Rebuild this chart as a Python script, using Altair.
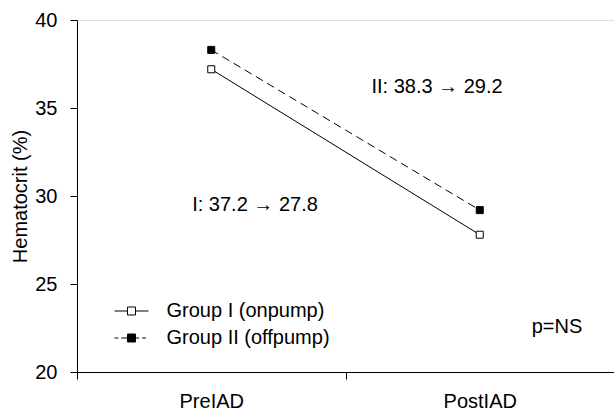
import altair as alt
import pandas as pd

times = ["PreIAD", "PostIAD"]
groups = ["Group I (onpump)", "Group II (offpump)"]
group1 = [37.2, 27.8]
group2 = [38.3, 29.2]
y_ticks = [20, 25, 30, 35, 40]

rows = []
for t, v in zip(times, group1):
    rows.append({"time": t, "group": groups[0], "value": v})
for t, v in zip(times, group2):
    rows.append({"time": t, "group": groups[1], "value": v})
df = pd.DataFrame(rows)

FONT = "Liberation Sans"

x_enc = alt.X("time:N", sort=times,
              scale=alt.Scale(paddingInner=0, paddingOuter=0),
              axis=alt.Axis(title=None, tickBand="extent", labelAngle=0,
                            labelFontSize=20, labelFont=FONT, labelColor="black",
                            labelPadding=12, tickSize=7, tickColor="black",
                            domainColor="black", grid=False))
y_enc = alt.Y("value:Q",
              scale=alt.Scale(domain=[20, 40], nice=False, zero=False),
              axis=alt.Axis(title="Hematocrit (%)", values=y_ticks,
                            labelFontSize=20, labelFont=FONT, labelColor="black",
                            labelPadding=13, tickSize=7, tickColor="black",
                            domainColor="black", grid=False,
                            titleFontSize=20, titleFont=FONT, titleFontWeight="normal",
                            titleColor="black", titlePadding=4))

base = alt.Chart(df)

solid_line = base.mark_line(color="black", strokeWidth=1).transform_filter(
    alt.datum.group == groups[0]
).encode(x=x_enc, y=y_enc)

dashed_line = base.mark_line(color="black", strokeWidth=1, strokeDash=[8, 5]).transform_filter(
    alt.datum.group == groups[1]
).encode(x=x_enc, y=y_enc)

open_sq = base.mark_square(size=49, stroke="black", strokeWidth=1, fill="white", opacity=1).transform_filter(
    alt.datum.group == groups[0]
).encode(x=x_enc, y=y_enc)

filled_sq = base.mark_square(size=49, stroke="black", strokeWidth=1, fill="black", opacity=1).transform_filter(
    alt.datum.group == groups[1]
).encode(x=x_enc, y=y_enc)

path1 = "M-2,0H-0.47M0.47,0H2M-0.47,-0.47H0.47V0.47H-0.47Z"
path2 = "M-2,0H-1.55M-1.2,0H-0.47M0.47,0H0.9M1.25,0H1.7M-0.47,-0.47H0.47V0.47H-0.47Z"

leg = alt.Legend(title=None, orient="none", legendX=44.5, legendY=281,
                 labelFontSize=20, labelFont=FONT, labelColor="black", labelLimit=400,
                 symbolSize=289, labelOffset=25, rowPadding=7,
                 symbolStrokeColor="black", symbolStrokeWidth=1)

legend_layer = base.mark_point(filled=False, size=0, strokeWidth=1, opacity=1).encode(
    x=x_enc, y=y_enc,
    shape=alt.Shape("group:N", scale=alt.Scale(domain=groups, range=[path1, path2]), legend=leg),
    fill=alt.Fill("group:N", scale=alt.Scale(domain=groups, range=["white", "black"]), legend=leg),
    stroke=alt.Stroke("group:N", scale=alt.Scale(domain=groups, range=["black", "black"]), legend=leg),
)

def note(txt, px, py):
    return alt.Chart(pd.DataFrame({"t": [txt]})).mark_text(
        font=FONT, fontSize=20, color="black", align="center", baseline="middle"
    ).encode(text="t:N", x=alt.value(px), y=alt.value(py))

notes = note("II: 38.3 \u2192 29.2", 360, 67) + note("I: 37.2 \u2192 27.8", 178, 185) + note("p=NS", 480, 307)

chart = alt.layer(solid_line, dashed_line, open_sq, filled_sq, legend_layer, notes).properties(
    width=537, height=352,
    autosize=alt.AutoSizeParams(type="none"),
    padding={"left": 77, "top": 20, "right": 0, "bottom": 46},
).configure_view(stroke=None).configure(background="white")

chart.save("out.html", embed_options={"renderer": "svg", "actions": False})
